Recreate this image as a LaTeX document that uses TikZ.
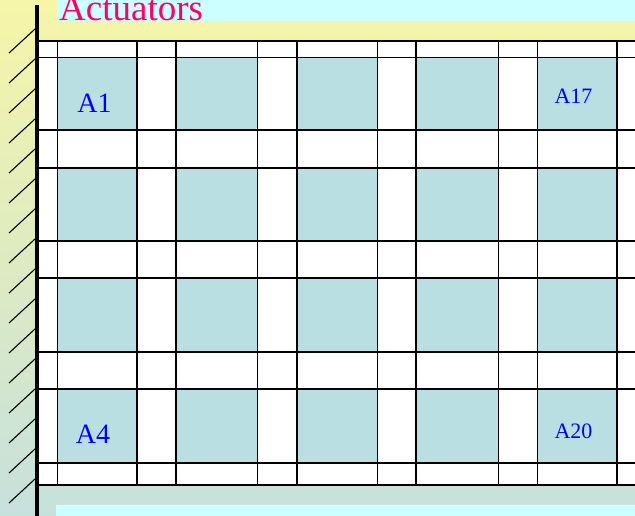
\documentclass[tikz,border=0pt]{standalone}
\usepackage{fontspec}
\setmainfont{Liberation Serif}
\definecolor{bgtop}{RGB}{246,246,168}
\definecolor{bgbot}{RGB}{198,224,220}
\definecolor{cyanbox}{RGB}{204,255,255}
\definecolor{cellfill}{RGB}{186,223,226}
\definecolor{titlepink}{RGB}{255,0,102}
\begin{document}
\begin{tikzpicture}[x=1pt,y=-1pt,
  gridline/.style={line width=1.2pt,black},
  border/.style={line width=1.7pt,black},
  wall/.style={line width=4pt,black},
  hatch/.style={line width=1.1pt,black},
  cellbox/.style={fill=cellfill},
  lbl/.style={text=blue,inner sep=0pt,anchor=base},
  title/.style={text=titlepink,inner sep=0pt,anchor=base west,font=\fontsize{37}{37}\selectfont}]
\useasboundingbox (0,0) rectangle (635,516);
\shade[top color=bgtop,bottom color=bgbot] (0,0) rectangle (635,516);
\fill[cyanbox] (57,0) rectangle (635,21);
\fill[cyanbox] (56,505) rectangle (635,516);
\node[title] (actuators) at (59,20.5) {Actuators};
% grid background
\fill[white] (37,41) rectangle (635,485);
% cells
\foreach \xa/\xb in {57.5/137,176/257.5,297/377.5,416/498.5,537.5/617}{
  \foreach \ya/\yb in {57.5/130,168/241,278/352,389/463}{
    \fill[cellbox] (\xa,\ya) rectangle (\xb,\yb);
  }
}
% grid lines
\foreach \x in {57.5,137,176,257.5,297,377.5,416,498.5,537.5,617}
  \draw[gridline] (\x,41) -- (\x,485);
\foreach \y in {57.5,130,168,241,278,352,389,463}
  \draw[gridline] (37,\y) -- (635,\y);
\draw[border] (37,41) -- (635,41);
\draw[border] (37,485) -- (635,485);
% wall
\draw[wall] (37,5) -- (37,516);
\foreach \k in {0,...,15}
  \draw[hatch] (9,53+30*\k) -- (35,29+30*\k);
% labels
\node[lbl,font=\fontsize{28}{28}\selectfont] (a1) at (94.5,113) {A1};
\node[lbl,font=\fontsize{28}{28}\selectfont] (a4) at (93,443) {A4};
\node[lbl,font=\fontsize{22}{22}\selectfont] (a17) at (573.5,104) {A17};
\node[lbl,font=\fontsize{22}{22}\selectfont] (a20) at (573.5,438) {A20};
\end{tikzpicture}
\end{document}
